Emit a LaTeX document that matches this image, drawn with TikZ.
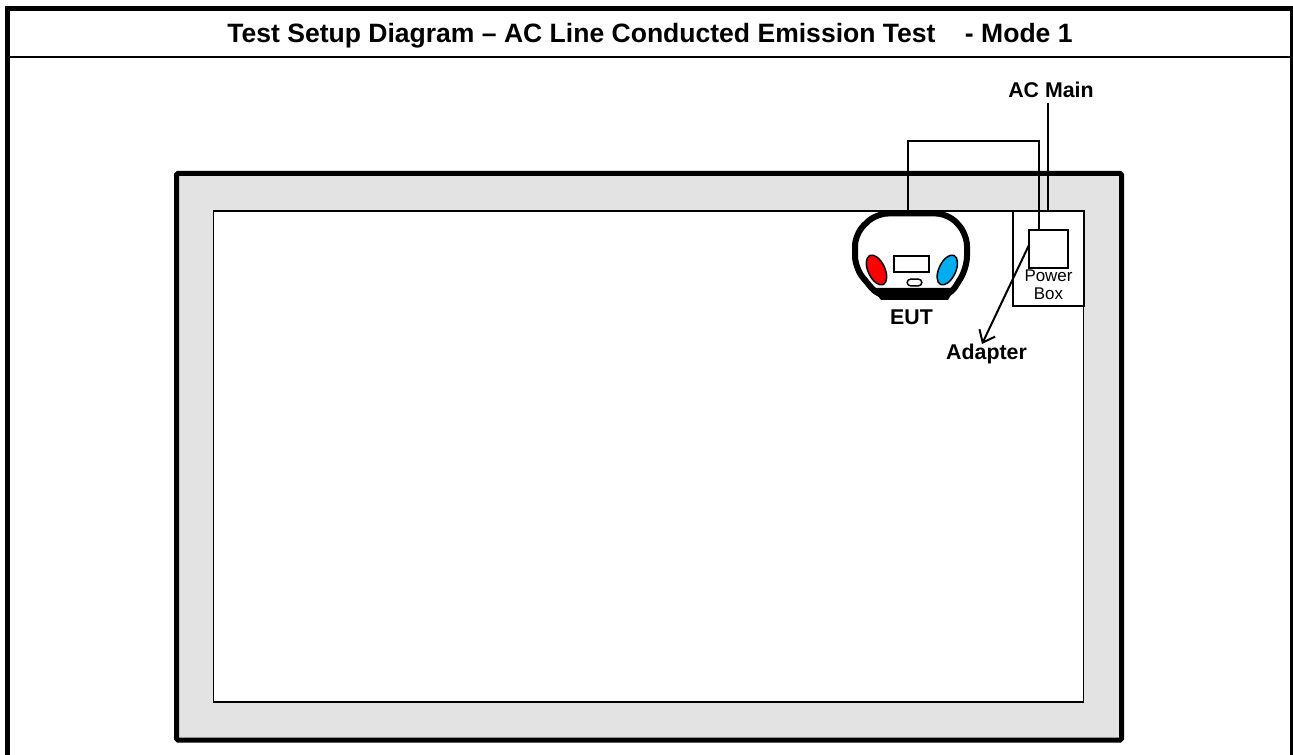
\documentclass[tikz,border=0pt]{standalone}
\usepackage{fontspec}
\setmainfont{Liberation Sans}
\usetikzlibrary{arrows.meta, calc}
\definecolor{eutblue}{HTML}{00AEEF}

\begin{document}
\begin{tikzpicture}[x=0.75pt, y=-0.75pt, >={Straight Barb[length=8pt,width=13pt]},
  frameline/.style={draw, line width=3.75pt},
  wire/.style={draw, line width=1.5pt},
  box/.style={draw, line width=1.5pt, fill=white, inner sep=0pt},
  label/.style={font=\bfseries\fontsize{16}{18}\selectfont, inner sep=0pt, anchor=base},
  small/.style={font=\fontsize{12.7}{13.5}\selectfont, inner sep=0pt, anchor=base}]
\useasboundingbox (0,0) rectangle (1293,755);

% ---------- outer frame ----------
\draw[frameline] (7.5,755) -- (7.5,8.5) -- (1292,8.5) -- (1292,755);
\draw[line width=1.5pt] (10,57) -- (1290,57);
\node[inner sep=0pt, anchor=base, font=\bfseries\fontsize{19.9}{24}\selectfont] (title) at (650,43)
  {Test Setup Diagram -- AC Line Conducted Emission Test\ \ \ \ - Mode 1};

% ---------- table ----------
\draw[frameline, fill=black!11, rounded corners=1pt] (176.5,173.5) rectangle (1121.5,740);
\draw[box, line width=1.2pt] (213.5,211) rectangle (1083.5,702);

% ---------- power box ----------
\node[box, minimum width=52.9pt, minimum height=71.25pt] (powerbox) at (1048.75,258.5) {};
\node[box, minimum width=29.25pt, minimum height=28.5pt] (adapter) at (1048.5,249) {};
\node[small] (power) at (1048.5,282) {Power};
\node[small] (boxtext) at (1048.5,300) {Box};
\coordinate (adaptertap) at (1029,245);
\coordinate (adaptertop) at (1039,230);

% ---------- EUT ----------
\draw[line width=4.5pt, fill=white, rounded corners=9pt] (855,268) -- (855,234) -- (876,213.5) -- (948,213.5) -- (967,234) -- (967,268) -- (949,297) -- (879,297) -- cycle;
\fill (872,288) -- (955,288) -- (948,300) -- (881,300) -- cycle;
\draw[line width=1.1pt, fill=red, rotate around={25:(876.5,270)}] (876.5,270) ellipse (6.3pt and 12pt);
\draw[line width=1.1pt, fill=eutblue, rotate around={-25:(947.3,270)}] (947.3,270) ellipse (6.3pt and 12pt);
\node[box, minimum width=26pt, minimum height=12pt] (panel) at (911.5,263.7) {};
\node[box, line width=1.1pt, rounded corners=2.5pt, minimum width=11pt, minimum height=5pt] (button) at (914.5,282.5) {};
\coordinate (euttop) at (907.5,211);
\node[label] (eut) at (911.5,325) {EUT};

% ---------- connectors ----------
\node[label] (acmain) at (1051,98) {AC Main};
\coordinate (actop) at (1048,103);
\draw[wire] (actop) -- (powerbox.north -| actop);
\draw[wire] (euttop) -- ++(0,-70) -| (adaptertop);
\node[label] (adapterlabel) at (986.5,360) {Adapter};
\coordinate (adaptertip) at (982,344);
\draw[wire, ->] (adaptertap) -- (adaptertip);

\end{tikzpicture}
\end{document}
